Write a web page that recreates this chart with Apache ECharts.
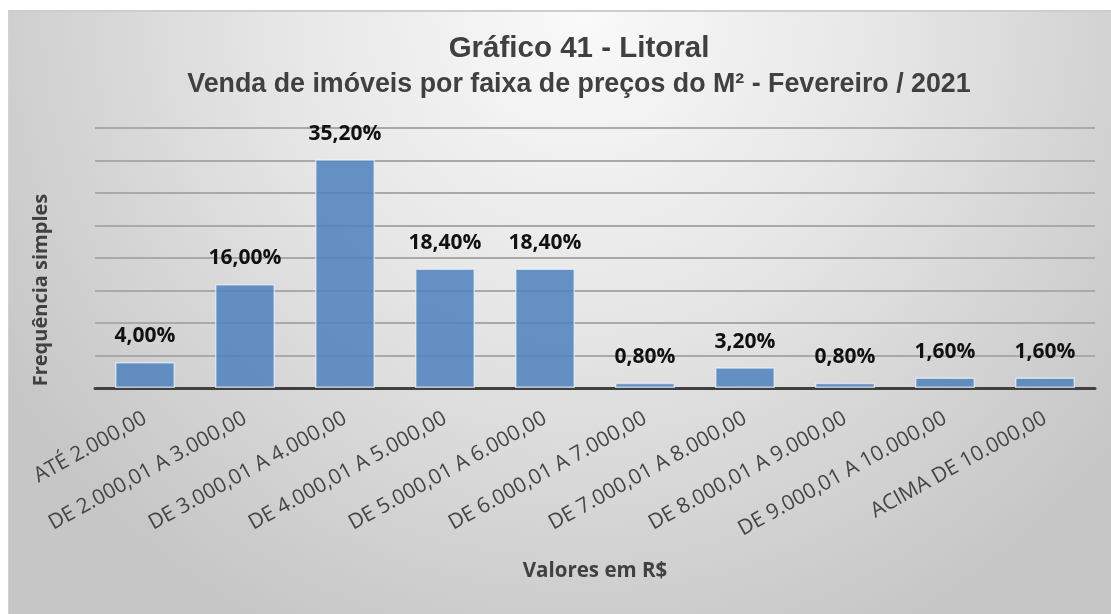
<!DOCTYPE html>
<html>
<head>
<meta charset="utf-8">
<script src="https://cdn.jsdelivr.net/npm/echarts@6/dist/echarts.min.js"></script>
<style>
  html, body { margin: 0; padding: 0; background: #ffffff; }
  #frame {
    position: absolute; left: 8px; top: 10px; width: 1103px; height: 604px;
    border-top: 2px solid #cdcdcd; border-left: 1px solid #d2d2d2;
    box-sizing: border-box;
    background: radial-gradient(ellipse 62% 115% at 52% 0%, #fafafa 0%, #e6e6e6 45%, #d4d4d4 75%, #c6c6c6 100%);
  }
  #chart { position: absolute; left: 0; top: 0; width: 1111px; height: 614px; }
</style>
</head>
<body>
<div id="frame"></div>
<div id="chart"></div>
<script>
// Faixas de preço do metro quadrado (R$)
const categories = [
  'ATÉ 2.000,00',
  'DE 2.000,01 A 3.000,00',
  'DE 3.000,01 A 4.000,00',
  'DE 4.000,01 A 5.000,00',
  'DE 5.000,01 A 6.000,00',
  'DE 6.000,01 A 7.000,00',
  'DE 7.000,01 A 8.000,00',
  'DE 8.000,01 A 9.000,00',
  'DE 9.000,01 A 10.000,00',
  'ACIMA DE 10.000,00'
];

// Frequência simples de vendas (%)
const frequencia = [4.0, 16.0, 35.2, 18.4, 18.4, 0.8, 3.2, 0.8, 1.6, 1.6];

const titulo = 'Gráfico 41 - Litoral';
const subtitulo = 'Venda de imóveis por faixa de preços do M² - Fevereiro / 2021';
const nomeEixoX = 'Valores em R$';
const nomeEixoY = 'Frequência simples';

const fmtPct = v => v.toFixed(2).replace('.', ',') + '%';

const chart = echarts.init(document.getElementById('chart'), null, { renderer: 'canvas' });

chart.setOption({
  backgroundColor: 'transparent',
  animation: false,
  title: [
    {
      text: titulo, left: 574, top: 29, textAlign: 'center',
      textStyle: { fontFamily: 'Liberation Sans, Arial, sans-serif', fontWeight: 'bold', fontSize: 29.5, color: '#404040' }
    },
    {
      text: subtitulo, left: 574, top: 66, textAlign: 'center',
      textStyle: { fontFamily: 'Liberation Sans, Arial, sans-serif', fontWeight: 'bold', fontSize: 26.8, color: '#404040' }
    }
  ],
  graphic: [{
    type: 'text',
    x: 41, y: 290,
    rotation: Math.PI / 2,
    style: {
      text: nomeEixoY,
      align: 'center', verticalAlign: 'middle',
      font: 'bold 20px "Open Sans", sans-serif',
      fill: '#404040'
    }
  }],
  grid: { left: 95, right: 16, top: 128, bottom: 226, containLabel: false },
  xAxis: {
    type: 'category',
    data: categories,
    name: nomeEixoX,
    nameLocation: 'middle',
    nameGap: 173,
    nameTextStyle: { fontFamily: 'Open Sans, sans-serif', fontWeight: 'bold', fontSize: 20.5, color: '#404040' },
    axisLine: { lineStyle: { color: '#404040', width: 3 } },
    axisTick: { show: false },
    axisLabel: {
      interval: 0, rotate: 29, margin: 29,
      fontFamily: 'Open Sans, sans-serif', fontSize: 21, color: '#454545'
    }
  },
  yAxis: {
    type: 'value',
    min: 0, max: 40, interval: 5,
    axisLine: { show: false },
    axisTick: { show: false },
    axisLabel: { show: false },
    splitLine: { lineStyle: { color: '#a9a9a9', width: 2 } }
  },
  series: [{
    type: 'bar',
    data: frequencia,
    barWidth: '60%',
    itemStyle: {
      color: 'rgba(79,129,189,0.86)',
      borderColor: 'rgba(235,242,250,0.7)',
      borderWidth: 1.5
    },
    label: {
      show: true,
      position: 'top',
      distance: 15,
      formatter: p => fmtPct(p.value),
      fontFamily: 'Open Sans, sans-serif',
      fontWeight: 'bold',
      fontSize: 21,
      color: '#111111'
    }
  }]
});
</script>
</body>
</html>
